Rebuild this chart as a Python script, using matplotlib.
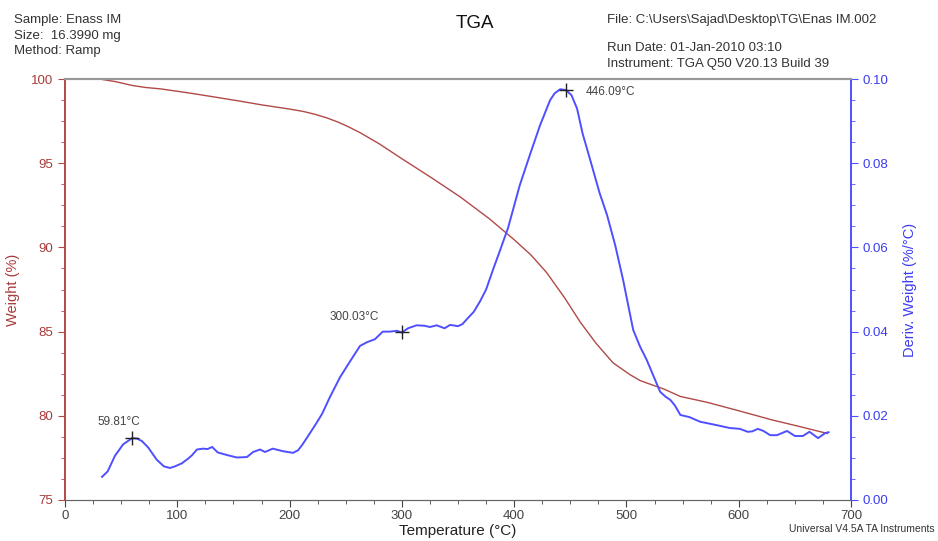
import matplotlib.pyplot as plt
import numpy as np
from matplotlib.ticker import MultipleLocator

plt.rcParams['font.family'] = ['Liberation Sans', 'DejaVu Sans']

# weight loss curve
temp_w = [31, 45, 60, 72, 85, 110, 130, 155, 175, 200, 212, 222, 233, 243, 252,
          263, 280, 300, 325, 352, 378, 400, 415, 429, 445, 459, 473, 488, 503,
          512, 518, 533, 548, 572, 600, 630, 655, 679]
weight = [100.0, 99.85, 99.62, 99.5, 99.42, 99.18, 98.97, 98.7, 98.47, 98.22,
          98.08, 97.92, 97.7, 97.45, 97.18, 96.81, 96.15, 95.27, 94.2, 93.0,
          91.7, 90.46, 89.55, 88.5, 87.0, 85.55, 84.3, 83.15, 82.45, 82.1, 81.95,
          81.6, 81.15, 80.8, 80.3, 79.75, 79.35, 78.95]

# derivative weight curve
temp_d = [33, 38, 44.5, 51.7, 59.8, 64, 68.5, 74, 81.6, 88, 93.5, 98, 104, 109.5,
          113, 117.5, 123, 127, 131, 136, 144, 153, 162, 167.5, 173.7, 178, 185,
          194, 203, 207.5, 211, 215.5, 224, 229, 236, 245, 254, 262.7, 269, 276,
          283, 289.4, 295.6, 300, 305.5, 313, 320, 325, 331, 338, 343, 350, 354,
          358, 364, 369.6, 375, 381, 387, 394.5, 405, 414, 423, 432, 436, 441,
          446, 451, 456, 461, 467.5, 476, 482.7, 490, 497, 506, 512, 518, 524,
          530, 535, 539, 543, 548, 556, 565.5, 580, 592, 601, 608, 612, 617, 622,
          628, 634, 643, 650, 657, 663, 670.6, 677, 680]
deriv = [0.0055, 0.0068, 0.0105, 0.0132, 0.0147, 0.0146, 0.0140, 0.0125, 0.0096,
         0.0080, 0.0076, 0.0080, 0.0087, 0.0098, 0.0106, 0.0120, 0.0122, 0.0121,
         0.0126, 0.0113, 0.0107, 0.0101, 0.0102, 0.0114, 0.0120, 0.0114, 0.0122,
         0.0116, 0.0112, 0.0118, 0.0130, 0.0148, 0.0183, 0.0205, 0.0245, 0.0292,
         0.0330, 0.0366, 0.0375, 0.0382, 0.0400, 0.0400, 0.0402, 0.0398, 0.0408,
         0.0415, 0.0414, 0.0411, 0.0415, 0.0408, 0.0416, 0.0413, 0.0418, 0.0430,
         0.0447, 0.0472, 0.0500, 0.0546, 0.0590, 0.0646, 0.0748, 0.0820, 0.0890,
         0.0950, 0.0966, 0.0976, 0.0974, 0.0962, 0.0930, 0.0870, 0.0810, 0.0730,
         0.0677, 0.0605, 0.0523, 0.0404, 0.0365, 0.0333, 0.0295, 0.0257, 0.0245,
         0.0238, 0.0225, 0.0202, 0.0197, 0.0186, 0.0178, 0.0171, 0.0169, 0.0162,
         0.0163, 0.0169, 0.0164, 0.0154, 0.0154, 0.0164, 0.0152, 0.0152, 0.0162,
         0.0147, 0.0159, 0.0161]

peak_temps = [59.81, 300.03, 446.09]

red = '#b04a48'
red_txt = '#a83a3a'
blue = '#4f4fff'
blue_txt = '#3c3cf0'
grey = '#444444'

fig = plt.figure(figsize=(9.38, 5.41), dpi=100)
ax = fig.add_axes([0.0693, 0.0758, 0.838, 0.778])
ax2 = ax.twinx()

ax.plot(temp_w, weight, color=red, lw=1.0)
ax2.plot(temp_d, deriv, color=blue, lw=1.4)

ax.set_xlim(0, 700)
ax.set_ylim(75, 100)
ax2.set_ylim(0, 0.10)

# peak markers on the derivative curve
peak_vals = np.interp(peak_temps, temp_d, deriv)
ax2.plot(peak_temps, peak_vals, '+', color='#222222', ms=10, mew=1.0)
offsets = [(-25, 7, 'left'), (-52, 7, 'left'), (14, -6, 'left')]
for t, v, (dx, dy, ha) in zip(peak_temps, peak_vals, offsets):
    ax2.annotate(f'{t:.2f}°C', (t, v), xytext=(dx, dy), textcoords='offset points',
                 ha=ha, va='bottom', fontsize=8.5, color=grey)

# axis styling
ax.xaxis.set_major_locator(MultipleLocator(100))
ax.xaxis.set_minor_locator(MultipleLocator(25))
ax.yaxis.set_major_locator(MultipleLocator(5))
ax.yaxis.set_minor_locator(MultipleLocator(1.25))
ax2.yaxis.set_major_locator(MultipleLocator(0.02))
ax2.yaxis.set_minor_locator(MultipleLocator(0.005))
ax2.yaxis.set_major_formatter(lambda v, p: f'{v:.2f}')

ax.tick_params(axis='x', which='both', colors=grey, labelsize=9.5, direction='out', pad=2)
ax.tick_params(axis='x', which='major', length=5)
ax.tick_params(axis='x', which='minor', length=3)
ax.tick_params(axis='y', which='both', colors=red, labelcolor=red_txt, labelsize=9.5)
ax.tick_params(axis='y', which='major', length=5)
ax.tick_params(axis='y', which='minor', length=3)
ax2.tick_params(axis='y', which='both', colors=blue, labelcolor=blue_txt, labelsize=9.5)
ax2.tick_params(axis='y', which='major', length=5)
ax2.tick_params(axis='y', which='minor', length=3)

for a in (ax, ax2):
    a.spines['top'].set_color('#999999')
    a.spines['top'].set_linewidth(1.5)
    a.spines['bottom'].set_color('#666666')
    a.spines['left'].set_color(red)
    a.spines['right'].set_color(blue)
    a.spines['left'].set_linewidth(1.2)
    a.spines['right'].set_linewidth(1.2)

ax.set_xlabel('Temperature (°C)', fontsize=11, color='#222222', labelpad=2)
ax.set_ylabel('Weight (%)', fontsize=10.5, color=red_txt, labelpad=8)
ax2.set_ylabel('Deriv. Weight (%/°C)', fontsize=10.5, color=blue_txt, labelpad=10)

# header block
hdr = dict(fontsize=9.5, color='#333333', va='center')
fig.text(14 / 938, 1 - 20 / 541, 'Sample: Enass IM', **hdr)
fig.text(14 / 938, 1 - 36 / 541, 'Size:  16.3990 mg', **hdr)
fig.text(14 / 938, 1 - 51 / 541, 'Method: Ramp', **hdr)
fig.text(475 / 938, 1 - 24 / 541, 'TGA', fontsize=13.5, ha='center', va='center', color='#111111')
fig.text(607 / 938, 1 - 20 / 541, r'File: C:\Users\Sajad\Desktop\TG\Enas IM.002', **hdr)
fig.text(607 / 938, 1 - 48 / 541, 'Run Date: 01-Jan-2010 03:10', **hdr)
fig.text(607 / 938, 1 - 64 / 541, 'Instrument: TGA Q50 V20.13 Build 39', **hdr)
fig.text(935 / 938, 1 - 529 / 541, 'Universal V4.5A TA Instruments', fontsize=7.5,
         ha='right', va='center', color='#333333')

fig.savefig('out.png', dpi=100)
